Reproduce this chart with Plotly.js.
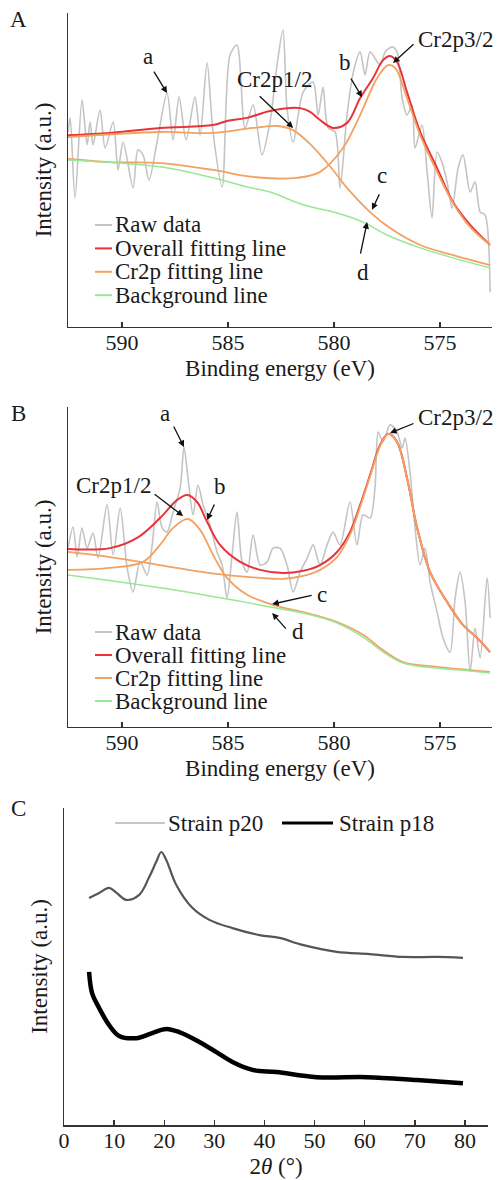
<!DOCTYPE html>
<html>
<head>
<meta charset="utf-8">
<script src="https://cdn.plot.ly/plotly-3.0.1.min.js"></script>
<style>html,body{margin:0;padding:0;background:#fff;}#chart{width:499px;height:1180px;}</style>
</head>
<body>
<div id="chart"></div>
<script>
// ---------- Panel A (XPS Cr2p) ----------
const aRawX = [592.55,592.45,592.22,591.89,591.65,591.51,591.37,591.04,590.80,590.42,590.19,589.95,589.48,589.25,589.01,588.73,588.35,587.88,587.59,587.31,586.98,586.56,586.32,585.99,585.71,585.28,584.91,584.58,584.20,583.82,583.40,583.02,582.69,582.41,582.22,581.93,581.46,580.99,580.75,580.52,580.28,579.95,579.72,579.39,579.10,578.77,578.54,578.30,577.83,577.59,577.26,577.03,576.79,576.56,576.32,576.18,575.85,575.61,575.38,575.14,574.91,574.67,574.43,574.15,573.92,573.58,573.35,573.11,572.88,572.64];
const aRawY = [62.0,66.6,41.1,72.3,58.0,65.3,58.0,69.1,57.0,65.3,50.0,58.9,44.3,56.4,54.8,46.8,58.9,74.5,59.6,73.2,59.6,73.2,61.1,84.1,62.1,44.6,86.6,89.8,63.4,70.7,54.8,65.3,83.4,94.6,69.7,58.9,74.8,78.0,67.5,76.4,63.4,62.1,44.3,67.5,80.9,87.6,80.3,87.6,83.4,87.6,89.2,87.6,72.9,67.5,70.7,57.0,64.3,49.4,34.7,55.7,52.5,46.2,37.9,50.6,54.8,43.0,46.2,36.6,35.7,11.1];
const aFitX = [592.55,590.57,588.21,585.71,585.05,584.10,583.02,581.60,581.13,580.66,580.05,579.39,578.77,578.16,577.69,577.36,577.03,576.56,575.94,575.14,574.39,573.58,572.64];
const aFitY = [61.1,61.8,63.4,64.3,65.6,66.6,68.8,69.7,68.5,65.9,63.4,65.0,72.9,79.3,85.0,86.3,84.4,74.8,62.1,50.6,39.8,32.5,26.1];
const aP1X = [592.55,588.21,585.71,583.82,582.69,581.93,580.99,580.05,579.39,578.30,577.36,575.94,574.39,572.64];
const aP1Y = [60.5,62.1,61.8,63.4,64.0,62.7,57.3,50.0,44.3,36.6,31.5,26.1,22.9,19.7];
const aP3X = [592.55,590.57,588.21,585.71,583.82,581.75,580.66,579.58,578.77,577.97,577.45,577.12,576.56,575.94,575.14,574.39,573.58,572.64];
const aP3Y = [53.5,52.5,52.2,50.0,47.8,47.5,49.4,57.0,67.5,79.3,83.4,82.5,72.9,61.1,49.4,39.5,31.8,26.1];
const aBgX = [592.55,588.21,585.71,584.10,583.02,581.46,579.86,578.63,577.50,575.94,574.39,572.64];
const aBgY = [53.2,51.0,47.5,44.6,43.0,38.9,36.3,33.4,29.3,25.2,22.0,18.8];

// ---------- Panel B ----------
const bRawX = [592.55,592.31,592.12,591.89,591.65,591.37,591.13,590.71,590.42,590.09,589.76,589.48,589.15,588.82,588.58,588.35,588.11,587.88,587.59,587.26,587.08,586.89,586.65,586.42,586.18,585.85,585.52,585.28,585.05,584.81,584.58,584.34,584.10,583.82,583.49,583.16,582.88,582.55,582.22,581.93,581.60,581.27,580.99,580.66,580.33,580.05,579.72,579.25,578.92,578.63,578.30,578.07,577.92,577.69,577.36,577.03,576.79,576.65,576.42,576.18,575.94,575.71,575.47,575.14,574.86,574.53,574.29,574.06,573.82,573.58,573.35,573.11,572.78,572.64];
const bRawY = [55.9,62.5,53.1,62.2,55.9,60.6,52.8,69.4,53.8,68.4,49.7,42.2,51.6,47.5,56.9,70.3,62.2,60.9,67.2,74.7,87.5,77.8,66.3,75.6,69.4,63.1,54.7,50.6,40.3,53.8,67.2,51.6,48.4,60.0,50.6,51.6,55.9,55.9,50.6,42.2,48.4,52.8,56.9,50.6,56.9,60.9,56.9,70.3,56.9,66.3,65.3,74.7,92.2,89.1,94.4,92.2,87.2,90.3,79.7,62.2,50.6,55.9,45.3,35.9,27.8,23.4,40.3,48.4,39.1,17.2,30.9,21.6,46.6,34.1];
const bFitX = [592.55,590.57,589.29,588.21,587.41,586.93,586.46,585.99,585.38,584.43,583.49,582.41,581.46,580.66,579.86,579.25,578.77,578.30,577.83,577.45,577.03,576.56,576.08,575.47,574.67,573.92,573.25,572.64];
const bFitY = [55.6,55.9,59.1,65.3,70.9,72.5,70.3,64.1,56.9,51.6,49.1,48.1,48.8,50.6,54.7,60.9,69.4,78.8,88.1,91.6,89.1,77.8,62.2,48.4,39.1,31.9,27.8,23.4];
const bP1X = [592.55,590.57,589.01,588.21,587.59,586.89,586.32,585.71,585.05,584.10,583.16,582.55,581.46,579.86,578.63,577.83,576.75,575.14,573.58,572.64];
const bP1Y = [49.1,49.7,51.6,56.9,62.2,65.0,61.6,53.8,46.6,41.3,38.8,37.5,35.9,32.8,28.8,24.7,20.3,18.8,17.8,17.2];
const bP3X = [592.55,590.57,588.21,585.85,583.49,582.41,581.46,580.66,579.86,579.25,578.77,578.30,577.83,577.45,577.03,576.56,576.08,575.47,574.67,573.92,573.25,572.64];
const bP3Y = [54.7,53.1,50.6,48.1,46.6,46.3,47.2,49.1,53.1,60.0,68.8,78.4,87.8,91.6,89.1,77.8,62.2,48.4,39.1,31.9,27.8,23.4];
const bBgX = [592.55,589.76,586.65,584.29,583.02,581.46,579.86,578.63,577.83,576.75,575.14,573.58,572.64];
const bBgY = [47.5,45.0,41.9,39.1,37.5,35.6,32.5,28.1,24.1,20.0,18.4,17.5,16.9];

// ---------- Panel C (XRD) ----------
const cP20X = [5.0,7.0,9.0,10.5,12.4,15.0,17.0,18.4,19.4,20.4,22.4,25.6,29.0,33.6,39.0,43.0,47.6,54.4,61.0,67.6,74.4,79.6];
const cP20Y = [71.6,73.2,74.8,73.2,71.0,72.6,78.2,83.0,86.1,83.6,75.7,68.5,64.7,62.1,59.9,59.0,56.8,54.6,53.9,53.0,53.0,52.7];
const cP18X = [5.0,5.6,7.0,9.0,11.0,14.4,17.6,20.4,23.0,27.0,30.4,33.6,37.6,42.4,50.4,60.4,70.4,79.6];
const cP18Y = [48.3,41.6,36.9,31.5,28.1,27.4,29.0,30.3,29.3,26.2,23.0,19.9,17.4,16.7,15.1,15.1,14.2,13.2];

const xpsTicks = [590, 585, 580, 575];
const xrdTicks = [0, 10, 20, 30, 40, 50, 60, 70, 80];
const seriesNames = ['Raw data', 'Overall fitting line', 'Cr2p fitting line', 'Background line'];
const xrdNames = ['Strain p20', 'Strain p18'];

const FONT = 'Liberation Serif';
const TXT = '#1a1a1a';
const FS = 23;
const C_RAW = '#c4c4c4', C_FIT = '#e8333b', C_CR = '#f2a262', C_BG = '#98e898';
const C_P20 = '#555555', C_P20_KEY = '#b4b4b4', C_P18 = '#000000';
const seriesColors = [C_RAW, C_FIT, C_CR, C_BG];

function xpsTraces(rx, ry, fx, fy, p1x, p1y, p3x, p3y, bx, by, xa, ya) {
  const base = {type: 'scatter', mode: 'lines', xaxis: xa, yaxis: ya};
  return [
    Object.assign({}, base, {x: rx, y: ry, name: seriesNames[0], line: {color: C_RAW, width: 1.6, shape: 'spline', smoothing: 0.8}}),
    Object.assign({}, base, {x: fx, y: fy, name: seriesNames[1], line: {color: C_FIT, width: 2, shape: 'spline'}}),
    Object.assign({}, base, {x: p1x, y: p1y, name: seriesNames[2], line: {color: C_CR, width: 1.8, shape: 'spline'}}),
    Object.assign({}, base, {x: p3x, y: p3y, name: seriesNames[2], line: {color: C_CR, width: 1.8, shape: 'spline'}}),
    Object.assign({}, base, {x: bx, y: by, name: seriesNames[3], line: {color: C_BG, width: 1.5, shape: 'spline'}})
  ];
}

const traces = [].concat(
  xpsTraces(aRawX, aRawY, aFitX, aFitY, aP1X, aP1Y, aP3X, aP3Y, aBgX, aBgY, 'x', 'y'),
  xpsTraces(bRawX, bRawY, bFitX, bFitY, bP1X, bP1Y, bP3X, bP3Y, bBgX, bBgY, 'x2', 'y2'),
  [
    {type: 'scatter', mode: 'lines', x: cP20X, y: cP20Y, name: xrdNames[0], xaxis: 'x3', yaxis: 'y3', line: {color: C_P20, width: 2.2, shape: 'spline'}},
    {type: 'scatter', mode: 'lines', x: cP18X, y: cP18Y, name: xrdNames[1], xaxis: 'x3', yaxis: 'y3', line: {color: C_P18, width: 4.5, shape: 'spline'}}
  ]
);

const tickFont = {family: FONT, size: 22, color: TXT};
function xAxis(domain, range, ticks, anchor, title) {
  return {domain: domain, range: range, anchor: anchor, tickmode: 'array', tickvals: ticks, ticktext: ticks.map(String),
    ticks: 'inside', ticklen: 5, tickwidth: 1.3, tickcolor: '#333', showline: true, linecolor: '#333', linewidth: 1.5,
    ticklabelstandoff: -5,
    showgrid: false, zeroline: false, tickfont: tickFont, title: {text: title, font: {family: FONT, size: FS, color: TXT}, standoff: 6}};
}
function yAxis(domain, anchor) {
  return {domain: domain, range: [0, 100], anchor: anchor, showline: true, linecolor: '#333', linewidth: 1.5,
    showticklabels: false, ticks: '', showgrid: false, zeroline: false,
    title: {text: 'Intensity (a.u.)', font: {family: FONT, size: FS, color: TXT}, standoff: 8}};
}

function arrow(xr, yr, x, y, ax, ay) {
  return {xref: xr, yref: yr, x: x, y: y, ax: ax, ay: ay, text: '', showarrow: true, arrowhead: 2, arrowsize: 1, arrowwidth: 1.3, arrowcolor: '#111'};
}
function label(xr, yr, x, y, t) {
  return {xref: xr, yref: yr, x: x, y: y, text: t, showarrow: false, xanchor: 'center', yanchor: 'middle', font: {family: FONT, size: FS, color: TXT}};
}
function paperText(px, py, t, anchor, size) {
  return {xref: 'paper', yref: 'paper', x: px / 499, y: 1 - py / 1180, text: t, showarrow: false, xanchor: anchor, yanchor: 'middle', font: {family: FONT, size: size, color: TXT}};
}
function keyLine(x0, x1, py, color, w) {
  return {type: 'line', xref: 'paper', yref: 'paper', x0: x0 / 499, x1: x1 / 499, y0: 1 - py / 1180, y1: 1 - py / 1180, line: {color: color, width: w}};
}

const annotations = [
  paperText(18, 20, 'A', 'center', FS),
  paperText(18, 413, 'B', 'center', FS),
  paperText(18, 808, 'C', 'center', FS),
  // panel A
  label('x', 'y', 588.77, 86.0, 'a'), arrow('x', 'y', 587.88, 74.5, -14, -23),
  label('x', 'y', 582.83, 78.7, 'Cr2p1/2'), arrow('x', 'y', 581.93, 63.4, -35, -33),
  label('x', 'y', 579.48, 84.1, 'b'), arrow('x', 'y', 578.68, 73.2, -12, -20),
  label('x', 'y', 574.29, 91.4, 'Cr2p3/2'), arrow('x', 'y', 577.22, 84.1, 22, -20),
  label('x', 'y', 577.74, 48.4, 'c'), arrow('x', 'y', 578.21, 37.3, 8, -17),
  label('x', 'y', 578.63, 17.5, 'd'), arrow('x', 'y', 578.44, 33.4, -7, 33),
  // panel B
  label('x2', 'y2', 587.97, 98.1, 'a'), arrow('x2', 'y2', 587.08, 87.5, -11, -22),
  label('x2', 'y2', 590.42, 75.6, 'Cr2p1/2'), arrow('x2', 'y2', 587.12, 65.9, -30, -23),
  label('x2', 'y2', 585.38, 75.0, 'b'), arrow('x2', 'y2', 585.99, 64.7, 8, -17),
  label('x2', 'y2', 574.29, 96.6, 'Cr2p3/2'), arrow('x2', 'y2', 577.36, 91.9, 25, -10),
  label('x2', 'y2', 580.57, 41.3, 'c'), arrow('x2', 'y2', 582.92, 38.4, 41, -9),
  label('x2', 'y2', 581.70, 29.7, 'd'), arrow('x2', 'y2', 582.92, 35.6, 15, 17)
];
const shapes = [];
// legends for A and B (key lines + text)
[[225, 23.4], [632, 23]].forEach(function (cfg) {
  seriesNames.forEach(function (n, i) {
    const py = cfg[0] + i * cfg[1];
    shapes.push(keyLine(95, 112, py, seriesColors[i], 2));
    annotations.push(paperText(113, py, n, 'left', FS));
  });
});
// legend for C
shapes.push(keyLine(115, 165, 823, C_P20_KEY, 1.5));
annotations.push(paperText(166, 823, xrdNames[0], 'left', FS));
shapes.push(keyLine(282, 333, 823, C_P18, 3));
annotations.push(paperText(337, 823, xrdNames[1], 'left', FS));

const layout = {
  width: 499, height: 1180,
  margin: {l: 0, r: 0, t: 0, b: 0},
  paper_bgcolor: '#fff', plot_bgcolor: '#fff',
  showlegend: false,
  xaxis: xAxis([0.1363, 0.986], [592.55, 572.55], xpsTicks, 'y', 'Binding energy (eV)'),
  yaxis: yAxis([0.7229, 0.989], 'x'),
  xaxis2: xAxis([0.1363, 0.986], [592.55, 572.55], xpsTicks, 'y2', 'Binding energy (eV)'),
  yaxis2: yAxis([0.3839, 0.6551], 'x2'),
  xaxis3: xAxis([0.1283, 0.978], [0, 84.6], xrdTicks, 'y3', '2<i>θ</i> (°)'),
  yaxis3: yAxis([0.0466, 0.3153], 'x3'),
  annotations: annotations,
  shapes: shapes
};

Plotly.newPlot('chart', traces, layout, {displayModeBar: false, staticPlot: true});
</script>
</body>
</html>
